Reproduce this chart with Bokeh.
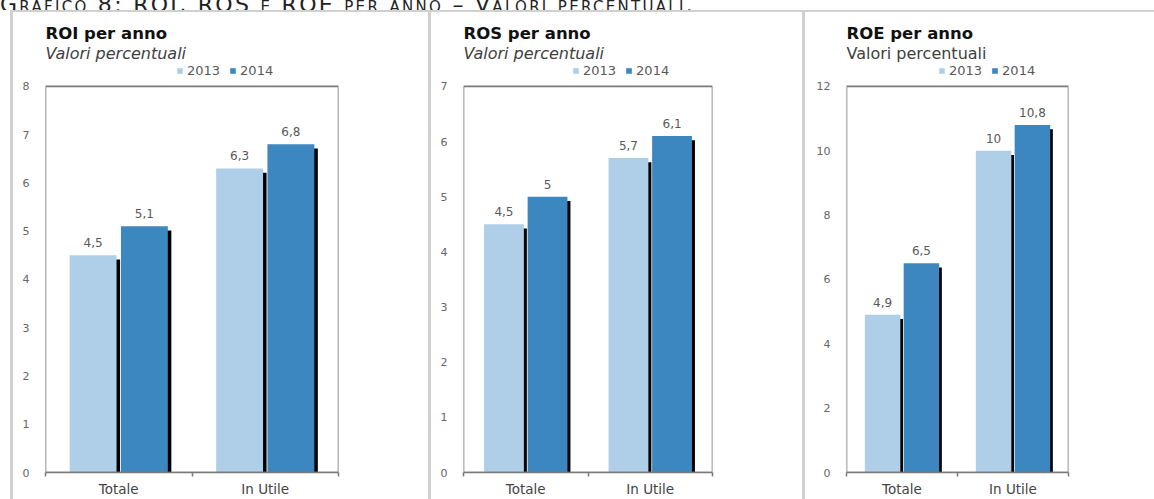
from bokeh.plotting import figure
from bokeh.models import (Range1d, FixedTicker, Legend, LegendItem, Label,
                          BoxAnnotation, ColumnDataSource, Div, Spacer)
from bokeh.layouts import row, column
from bokeh.core.properties import value
from bokeh.embed import file_html
from bokeh.resources import INLINE

# ---- data -------------------------------------------------------------
categories = ["Totale", "In Utile"]
years = ["2013", "2014"]

roi_2013 = [4.5, 6.3]
roi_2014 = [5.1, 6.8]
ros_2013 = [4.5, 5.7]
ros_2014 = [5.0, 6.1]
roe_2013 = [4.9, 10.0]
roe_2014 = [6.5, 10.8]

roi_ticks = [0, 1, 2, 3, 4, 5, 6, 7, 8]
ros_ticks = [0, 1, 2, 3, 4, 5, 6, 7]
roe_ticks = [0, 2, 4, 6, 8, 10, 12]

titles = ["ROI per anno", "ROS per anno", "ROE per anno"]
subtitle = "Valori percentuali"
header_text = "Grafico 8: ROI, ROS e ROE per anno – Valori percentuali."

# ---- style ------------------------------------------------------------
FONT = "DejaVu Sans"
C2013 = "#afcfe9"
C2014 = "#3c87bf"
FRAME = "#7a7a7a"
RULE = "#d0d0d0"
TXT = "#595959"

FIG_H = 489          # height of each chart panel
BORDER_BOTTOM = 26   # room for the category labels
FRAME_H = FIG_H - BORDER_BOTTOM
BOX_H = 387          # pixel height of the value box inside the frame
BAR_W = 0.32
DODGE = 0.175
SHADOW_SHIFT = 0.024


def fmt(v):
    return f"{v:g}".replace(".", ",")


def make_panel(title, sub_italic, v13, v14, ticks, width, b_left, b_right, legend_x):
    n = len(categories)
    ymax = ticks[-1]
    # the frame also hosts the heading, so the range runs above the top tick
    y_end = ymax * FRAME_H / BOX_H
    p = figure(width=width, height=FIG_H,
               x_range=Range1d(0, n), y_range=Range1d(ticks[0], y_end),
               output_backend="svg", toolbar_location=None,
               min_border_left=b_left, min_border_right=b_right,
               min_border_top=0, min_border_bottom=BORDER_BOTTOM,
               background_fill_alpha=0, border_fill_alpha=0,
               styles={"box-shadow": f"inset 3px 2px 0 0 {RULE}"})
    p.grid.visible = False
    p.outline_line_color = None

    centers = [i + 0.5 for i in range(n)]
    drop = ymax * 0.011
    src = ColumnDataSource(dict(
        x13=[c - DODGE for c in centers],
        x14=[c + DODGE for c in centers],
        s13=[c - DODGE + SHADOW_SHIFT for c in centers],
        s14=[c + DODGE + SHADOW_SHIFT for c in centers],
        y13=v13, y14=v14,
        t13=[v - drop for v in v13], t14=[v - drop for v in v14],
        l13=[fmt(v) for v in v13], l14=[fmt(v) for v in v14],
    ))

    # drop shadows behind each bar
    p.vbar(x="s13", top="t13", width=BAR_W, source=src, fill_color="black", line_color=None)
    p.vbar(x="s14", top="t14", width=BAR_W, source=src, fill_color="black", line_color=None)
    r13 = p.vbar(x="x13", top="y13", width=BAR_W, source=src, fill_color=C2013, line_color=None)
    r14 = p.vbar(x="x14", top="y14", width=BAR_W, source=src, fill_color=C2014, line_color=None)

    for xcol, ycol, lcol in (("x13", "y13", "l13"), ("x14", "y14", "l14")):
        p.text(x=xcol, y=ycol, text=lcol, source=src, text_align="center",
               text_baseline="bottom", y_offset=-8, text_font=value(FONT),
               text_font_size="12px", text_color=TXT)

    # box around the value area: categories across, tick span up
    p.add_layout(BoxAnnotation(left=0, right=n, bottom=ticks[0], top=ymax,
                               fill_alpha=0, line_color=FRAME, line_alpha=1,
                               line_width=1.6))

    # axes
    xa = p.xaxis[0]
    xa.ticker = FixedTicker(ticks=centers, minor_ticks=list(range(n + 1)))
    xa.major_label_overrides = {c: cat for c, cat in zip(centers, categories)}
    xa.major_tick_line_color = None
    xa.major_tick_out = 0
    xa.major_tick_in = 0
    xa.minor_tick_line_color = FRAME
    xa.minor_tick_line_width = 1.5
    xa.minor_tick_out = 4
    xa.minor_tick_in = 0
    xa.axis_line_color = FRAME
    xa.axis_line_width = 1.6
    xa.major_label_standoff = 4
    xa.major_label_text_font = FONT
    xa.major_label_text_font_size = "13.5px"
    xa.major_label_text_color = "#444444"

    ya = p.yaxis[0]
    ya.ticker = FixedTicker(ticks=ticks)
    ya.major_tick_line_color = None
    ya.major_tick_out = 0
    ya.major_tick_in = 0
    ya.minor_tick_line_color = None
    ya.axis_line_color = None
    ya.major_label_standoff = 16
    ya.major_label_text_font = FONT
    ya.major_label_text_font_size = "11px"
    ya.major_label_text_color = "#666666"

    # heading: title, subtitle, legend
    p.add_layout(Label(x=0, y=449, x_units="screen", y_units="screen",
                       text=title, text_baseline="top", text_font=FONT,
                       text_font_size="16.5px", text_font_style="bold",
                       text_color="#111111"))
    p.add_layout(Label(x=0, y=429, x_units="screen", y_units="screen",
                       text=subtitle, text_baseline="top", text_font=FONT,
                       text_font_size="16px",
                       text_font_style="italic" if sub_italic else "normal",
                       text_color="#404040"))
    legend = Legend(items=[LegendItem(label=years[0], renderers=[r13]),
                           LegendItem(label=years[1], renderers=[r14])],
                    location=(legend_x, 394), orientation="horizontal",
                    glyph_width=7, glyph_height=7, label_standoff=4, spacing=9,
                    padding=0, margin=0, border_line_color=None,
                    background_fill_alpha=0, label_height=14,
                    label_text_font=FONT, label_text_font_size="13px",
                    label_text_color=TXT)
    p.add_layout(legend)
    return p


p1 = make_panel(titles[0], True, roi_2013, roi_2014, roi_ticks, 418, 35, 90, 131)
p2 = make_panel(titles[1], True, ros_2013, ros_2014, ros_ticks, 374, 35, 90, 109)
p3 = make_panel(titles[2], False, roe_2013, roe_2014, roe_ticks, 352, 44, 86, 92)

header = Div(
    text=('<div style="font-family:\'DejaVu Sans\';font-variant:small-caps;'
          'font-size:22px;line-height:22px;margin-top:-13px;letter-spacing:2.3px;'
          f'color:#222;white-space:nowrap;">{header_text}</div>'),
    width=1154, height=10, margin=0, styles={"overflow": "hidden"})

layout = column(header,
                row(Spacer(width=10, height=FIG_H, margin=0), p1, p2, p3, spacing=0),
                spacing=0)

open("out.html", "w").write(file_html(layout, INLINE))
